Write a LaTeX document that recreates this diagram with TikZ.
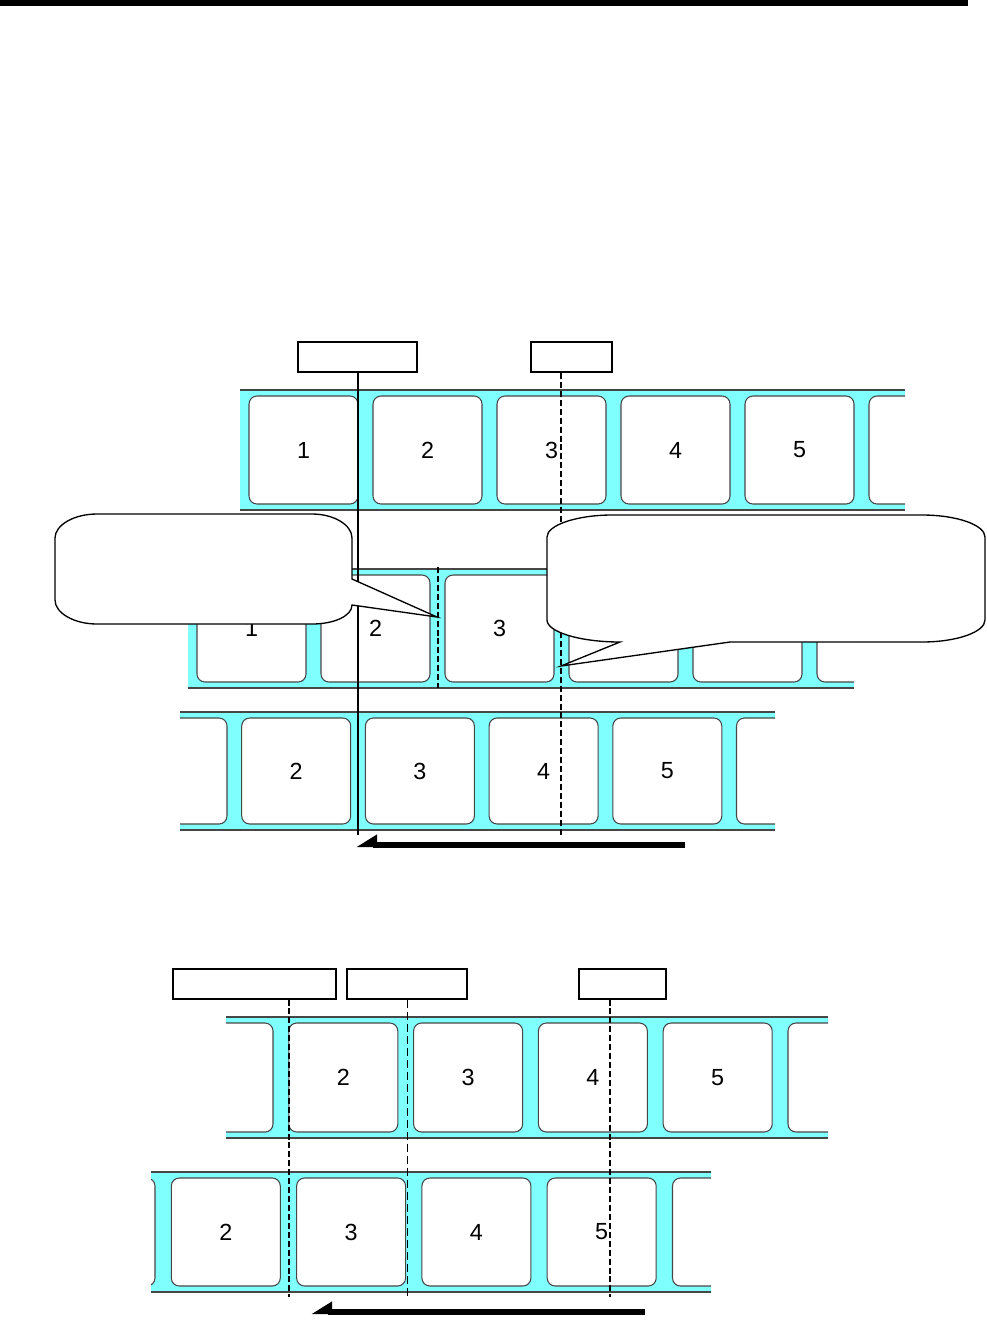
\documentclass[tikz,border=0pt]{standalone}
\usepackage{fontspec}
\setmainfont{Liberation Sans}
\usetikzlibrary{arrows.meta}
\definecolor{film}{RGB}{128,255,255}
\definecolor{edgegray}{RGB}{70,70,70}
\tikzset{
  lab/.style={draw=edgegray, line width=0.8pt, fill=white, rounded corners=6pt, inner sep=0pt,
    minimum width=81.75pt, font=\fontsize{17.5}{20}\selectfont},
  edgeline/.style={draw=edgegray, line width=1.2pt},
  tagbox/.style={draw, line width=1.5pt, fill=white, inner sep=0pt, minimum height=22.5pt},
  solidguide/.style={draw, line width=0.8pt},
  dashguide/.style={draw, line width=1.2pt, dash pattern=on 4.5pt off 2.2pt},
  thinguide/.style={draw, line width=0.6pt, dash pattern=on 6pt off 3pt},
  callout/.style={draw, line width=1pt, fill=white},
  bigarrow/.style={line width=3.8pt, -{Triangle[right, length=13pt, width=15pt]}},
}
% #1 left, #2 right, #3 top line, #4 bottom line, #5 first label x, #6 pitch, #7 list k/text, #8 name
\newcommand\drawfilmstrip[8]{%
  \begin{scope}
    \clip (#1,{#3-2}) rectangle (#2,{#4+2});
    \fill[film] (#1,#3) rectangle (#2,#4);
    \foreach \k/\t in {#7} {
      \node[lab, minimum height={(#4-#3-12)*0.75pt}] (#8-\k) at ({#5+\k*#6+54.5},{(#3+#4)/2}) {\t};
    }
    \draw[edgeline] (#1,#3) -- (#2,#3) (#1,#4) -- (#2,#4);
  \end{scope}
}
\begin{document}
\begin{tikzpicture}[x=0.75pt,y=-0.75pt]
\useasboundingbox (0,0) rectangle (987,1325);
% top bar
\fill[black] (0,0) rectangle (968,6);

% ===== upper section =====
\drawfilmstrip{240}{905}{390}{510}{249}{124}{0/1,1/2,2/3,3/4,4/5,5/}{sa}
\drawfilmstrip{188}{854}{569}{688}{197}{124}{0/1,1/2,2/3,3/,4/,5/}{sb}
\drawfilmstrip{180}{775}{712}{830}{118}{123.7}{0/,1/2,2/3,3/4,4/5,5/}{sc}

\node[tagbox, minimum width=89.25pt] (box1) at (357.5,357) {};
\node[tagbox, minimum width=60.75pt] (box2) at (571.5,357) {};

\coordinate (g1) at (358,835);
\coordinate (g2) at (561,835);
\coordinate (g3a) at (438,567);
\coordinate (g3b) at (438,688);
\draw[solidguide] (box1.south -| g1) -- (g1);
\draw[dashguide] (box2.south -| g2) -- (g2);
\draw[dashguide] (g3a) -- (g3b);

% callout 1
\draw[callout] (97,514) -- (312,514) .. controls (334,514) and (352,525) .. (352,538)
  -- (352,579) -- (437,617) -- (352,605)
  .. controls (352,616) and (334,624) .. (312,624) -- (97,624)
  .. controls (74,624) and (55,613) .. (55,600) -- (55,538)
  .. controls (55,525) and (74,514) .. (97,514) -- cycle;
% callout 2
\draw[callout] (612,515) -- (922,515) .. controls (957,515) and (985,525) .. (985,537)
  -- (985,620) .. controls (985,632) and (957,642) .. (922,642)
  -- (730,642) -- (561,666) -- (620,642)
  .. controls (580,642) and (547,632) .. (547,620) -- (547,537)
  .. controls (547,525) and (577,515) .. (612,515) -- cycle;

\coordinate (a1s) at (685,845);
\coordinate (a1e) at (356,845);
\draw[bigarrow] (a1s) -- (a1e);

% ===== lower section =====
\drawfilmstrip{226}{828}{1017}{1138}{164}{124.8}{0/,1/2,2/3,3/4,4/5,5/}{sd}
\drawfilmstrip{151}{711}{1172}{1292}{46}{125.3}{0/,1/2,2/3,3/4,4/5,5/}{se}

\node[tagbox, minimum width=122.25pt] (boxA) at (254.5,983.5) {};
\node[tagbox, minimum width=90pt] (boxB) at (407,983.5) {};
\node[tagbox, minimum width=65.25pt] (boxC) at (622.5,983.5) {};

\coordinate (g4) at (289,1297);
\coordinate (g5) at (407,1297);
\coordinate (g6) at (610,1297);
\draw[dashguide] (boxA.south -| g4) -- (g4);
\draw[thinguide] (boxB.south -| g5) -- (g5);
\draw[dashguide] (boxC.south -| g6) -- (g6);

\coordinate (a2s) at (645,1312);
\coordinate (a2e) at (311,1312);
\draw[bigarrow] (a2s) -- (a2e);
\end{tikzpicture}
\end{document}
